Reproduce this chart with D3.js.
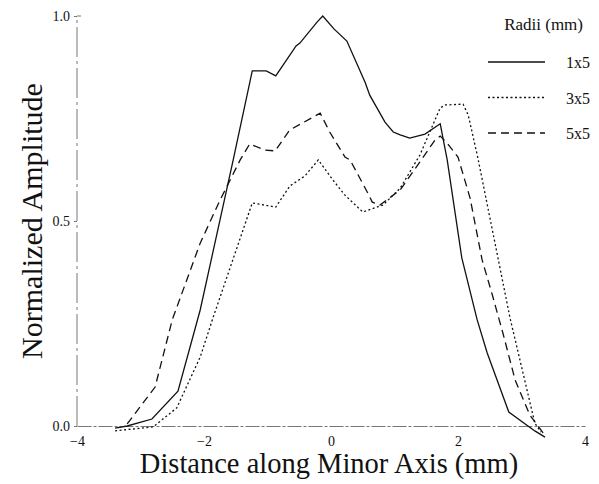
<!DOCTYPE html>
<html><head><meta charset="utf-8">
<script src="https://cdn.jsdelivr.net/npm/d3@7/dist/d3.min.js"></script>
<style>body{margin:0;background:#fff}svg{display:block}</style>
</head><body>
<script>
const seriesNames = ["1x5", "3x5", "5x5"];
const xTicks = [-4, -2, 0, 2, 4];
const yTicks = [0, 0.5, 1.0];
const yTickLabels = ["0.0", "0.5", "1.0"];

const r1x5 = [[-3.40,-0.005],[-3.21,0.0],[-2.82,0.017],[-2.41,0.085],[-2.06,0.283],[-1.54,0.649],[-1.24,0.866],[-1.02,0.866],[-0.87,0.854],[-0.55,0.927],[-0.49,0.934],[-0.22,0.985],[-0.13,1.0],[0.05,0.968],[0.25,0.939],[0.54,0.837],[0.61,0.807],[0.85,0.741],[0.98,0.717],[1.09,0.71],[1.24,0.702],[1.48,0.712],[1.72,0.737],[1.83,0.649],[2.06,0.41],[2.30,0.26],[2.46,0.178],[2.80,0.034],[3.21,-0.012],[3.37,-0.027]];
const r3x5 = [[-3.40,-0.012],[-2.80,-0.002],[-2.43,0.044],[-2.06,0.168],[-1.86,0.263],[-1.24,0.544],[-0.87,0.534],[-0.65,0.585],[-0.41,0.61],[-0.20,0.649],[0.03,0.6],[0.22,0.563],[0.50,0.522],[0.82,0.539],[1.09,0.58],[1.40,0.661],[1.72,0.776],[1.80,0.783],[2.08,0.785],[2.16,0.759],[2.31,0.656],[2.82,0.263],[3.21,0.007],[3.31,-0.015]];
const r5x5 = [[-3.21,0.005],[-2.77,0.095],[-2.50,0.259],[-2.06,0.446],[-1.75,0.55],[-1.43,0.649],[-1.28,0.688],[-1.04,0.673],[-0.88,0.671],[-0.65,0.722],[-0.17,0.763],[-0.02,0.717],[0.22,0.656],[0.30,0.649],[0.58,0.568],[0.65,0.546],[0.77,0.539],[1.09,0.576],[1.40,0.644],[1.64,0.698],[1.72,0.707],[1.83,0.69],[2.00,0.656],[2.19,0.556],[2.38,0.405],[2.54,0.32],[2.71,0.225],[2.90,0.112],[3.13,0.027],[3.34,-0.017]];
const seriesData = [r1x5, r3x5, r5x5];
const dashes = [null, "2,2.5", "8,5"];

const W = 599, H = 484;
const svg = d3.select("body").append("svg").attr("width", W).attr("height", H);
const x = d3.scaleLinear().domain([-4, 4]).range([77, 585]);
const y = d3.scaleLinear().domain([0, 1]).range([426, 16]);
const font = "Liberation Serif, Times New Roman, serif";

// x axis
const xa = svg.append("g").attr("transform", `translate(0,${y(0)})`)
  .call(d3.axisBottom(x).tickValues(xTicks).tickSize(0).tickPadding(10).tickFormat(d3.format("d")));
xa.select(".domain").attr("stroke", "#777").attr("stroke-width", 1).attr("stroke-dasharray", "14,2,3,2");
xa.selectAll("text").attr("font-family", font).attr("font-size", 14).attr("fill", "#111");

// y axis
const ya = svg.append("g").attr("transform", `translate(${x(-4)},0)`)
  .call(d3.axisLeft(y).tickValues(yTicks).tickSize(3).tickPadding(4).tickFormat((d,i)=>yTickLabels[i]));
ya.select(".domain").attr("stroke", "#777").attr("stroke-width", 1).attr("stroke-dasharray", "30,4,3,4").attr("d", `M0,${y(0)}V${y(1)}H4`);
ya.selectAll(".tick line").attr("stroke", "#777");
ya.selectAll("text").attr("font-family", font).attr("font-size", 14).attr("fill", "#111");

// lines
const line = d3.line().x(d => x(d[0])).y(d => y(d[1]));
seriesData.forEach((s, i) => {
  svg.append("path").datum(s).attr("d", line).attr("fill", "none")
    .attr("stroke", "#111").attr("stroke-width", 1.3)
    .attr("stroke-dasharray", dashes[i]);
});

// legend
svg.append("text").attr("x", 583).attr("y", 30).attr("text-anchor", "end")
  .attr("font-family", font).attr("font-size", 17).attr("fill", "#111").text("Radii (mm)");
const ly = d3.scalePoint().domain(seriesNames).range([62, 133]);
seriesNames.forEach((n, i) => {
  svg.append("line").attr("x1", 488).attr("x2", 545).attr("y1", ly(n)).attr("y2", ly(n))
    .attr("stroke", "#111").attr("stroke-width", 1.3).attr("stroke-dasharray", dashes[i]);
  svg.append("text").attr("x", 566).attr("y", ly(n) + 6).attr("font-family", font)
    .attr("font-size", 16).attr("fill", "#111").text(n);
});

// axis titles
svg.append("text").attr("x", 329).attr("y", 473).attr("text-anchor", "middle")
  .attr("font-family", font).attr("font-size", 28.5).attr("fill", "#111").text("Distance along Minor Axis (mm)");
svg.append("text").attr("transform", "translate(42,221) rotate(-90)").attr("text-anchor", "middle")
  .attr("font-family", font).attr("font-size", 30).attr("fill", "#111").text("Normalized Amplitude");
</script>
</body></html>
